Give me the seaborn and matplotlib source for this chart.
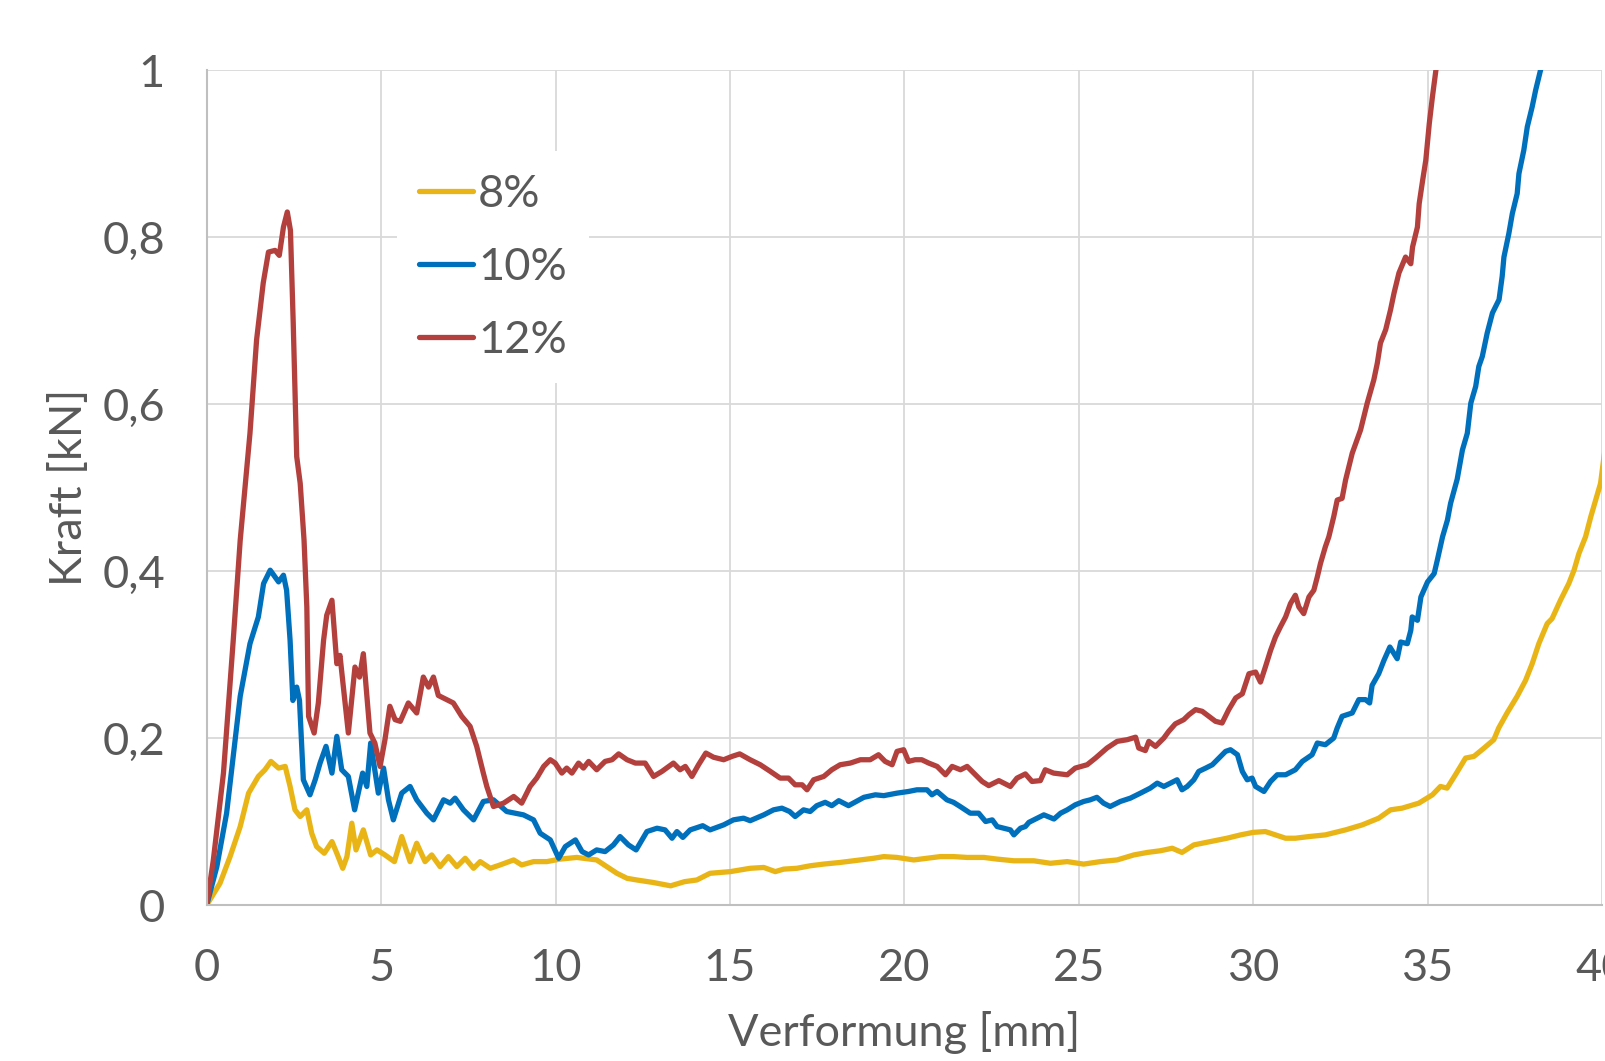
import numpy as np
import pandas as pd
import matplotlib
matplotlib.use("Agg")
import matplotlib.pyplot as plt
import seaborn as sns

# series: Verformung [mm] vs Kraft [kN]
x_8 = [0, 0.38, 0.67, 0.96, 1.2, 1.48, 1.67, 1.84, 2.06, 2.25, 2.39, 2.53, 2.68, 2.87, 3.01, 3.15,
       3.37, 3.59, 3.73, 3.9, 4.02, 4.16, 4.28, 4.49, 4.7, 4.88, 5.11, 5.38, 5.59, 5.83, 6.02, 6.26,
       6.45, 6.69, 6.93, 7.17, 7.41, 7.65, 7.84, 8.13, 8.41, 8.8, 9.03, 9.37, 9.75, 10.13, 10.61,
       11.18, 11.47, 11.76, 12.05, 12.33, 12.8, 13.3, 13.7, 14.05, 14.43, 15.01, 15.58, 15.97, 16.3,
       16.54, 16.92, 17.3, 17.68, 18.16, 18.74, 19.12, 19.41, 19.79, 20.27, 20.65, 21.03, 21.41,
       21.8, 22.28, 22.66, 23.14, 23.71, 24.19, 24.67, 25.14, 25.62, 26.1, 26.58, 26.97, 27.34,
       27.68, 27.96, 28.3, 28.78, 29.25, 29.64, 30.0, 30.35, 30.64, 30.93, 31.21, 31.6, 32.07, 32.65,
       33.13, 33.6, 33.94, 34.27, 34.75, 35.14, 35.37, 35.56, 35.8, 36.09, 36.33, 36.62, 36.9, 37.04,
       37.28, 37.57, 37.81, 38.0, 38.19, 38.43, 38.57, 38.81, 39.05, 39.2, 39.34, 39.53, 39.68,
       39.82, 39.96, 40.1]
y_8 = [0, 0.026, 0.058, 0.094, 0.134, 0.154, 0.162, 0.172, 0.164, 0.166, 0.142, 0.114, 0.106, 0.114,
       0.086, 0.070, 0.062, 0.076, 0.062, 0.044, 0.058, 0.098, 0.066, 0.090, 0.060, 0.066, 0.060,
       0.052, 0.082, 0.052, 0.074, 0.052, 0.060, 0.046, 0.058, 0.046, 0.056, 0.044, 0.052, 0.044,
       0.048, 0.054, 0.048, 0.052, 0.052, 0.055, 0.057, 0.054, 0.046, 0.038, 0.032, 0.030, 0.027,
       0.023, 0.028, 0.030, 0.038, 0.040, 0.044, 0.045, 0.040, 0.043, 0.044, 0.047, 0.049, 0.051,
       0.054, 0.056, 0.058, 0.057, 0.054, 0.056, 0.058, 0.058, 0.057, 0.057, 0.055, 0.053, 0.053,
       0.050, 0.052, 0.049, 0.052, 0.054, 0.060, 0.063, 0.065, 0.068, 0.063, 0.072, 0.076, 0.080,
       0.084, 0.087, 0.088, 0.084, 0.080, 0.080, 0.082, 0.084, 0.090, 0.096, 0.104, 0.114, 0.116,
       0.122, 0.132, 0.142, 0.140, 0.156, 0.176, 0.178, 0.188, 0.198, 0.212, 0.230, 0.250, 0.269,
       0.289, 0.313, 0.337, 0.343, 0.365, 0.385, 0.401, 0.421, 0.441, 0.465, 0.485, 0.505, 0.55]

x_10 = [0, 0.29, 0.57, 0.76, 0.96, 1.24, 1.48, 1.63, 1.82, 2.06, 2.2, 2.29, 2.39, 2.47, 2.58, 2.66,
        2.77, 2.96, 3.11, 3.25, 3.42, 3.59, 3.73, 3.87, 4.06, 4.24, 4.47, 4.59, 4.70, 4.92, 5.07,
        5.21, 5.35, 5.59, 5.83, 6.02, 6.31, 6.5, 6.79, 6.98, 7.12, 7.36, 7.65, 7.93, 8.22, 8.6, 9.08,
        9.37, 9.56, 9.85, 10.09, 10.28, 10.57, 10.76, 10.95, 11.18, 11.42, 11.66, 11.85, 12.09,
        12.31, 12.62, 12.91, 13.14, 13.34, 13.48, 13.65, 13.86, 14.22, 14.43, 14.82, 15.1, 15.39,
        15.58, 15.97, 16.25, 16.49, 16.71, 16.87, 17.11, 17.3, 17.49, 17.73, 17.92, 18.12, 18.4,
        18.84, 19.17, 19.41, 19.79, 20.12, 20.36, 20.65, 20.79, 20.94, 21.22, 21.41, 21.6, 21.89,
        22.13, 22.33, 22.52, 22.66, 22.85, 23.04, 23.14, 23.33, 23.47, 23.57, 23.81, 24.0, 24.29,
        24.48, 24.67, 24.9, 25.14, 25.33, 25.52, 25.71, 25.9, 26.19, 26.48, 26.77, 27.05, 27.25,
        27.44, 27.63, 27.82, 27.96, 28.11, 28.3, 28.44, 28.64, 28.83, 29.02, 29.21, 29.35, 29.55,
        29.69, 29.83, 29.97, 30.07, 30.31, 30.5, 30.69, 30.93, 31.21, 31.41, 31.69, 31.84, 32.07,
        32.31, 32.41, 32.55, 32.84, 33.03, 33.22, 33.34, 33.41, 33.6, 33.75, 33.92, 34.13, 34.23,
        34.42, 34.52, 34.56, 34.71, 34.81, 35.0, 35.19, 35.28, 35.43, 35.57, 35.66, 35.85, 36.0,
        36.14, 36.24, 36.38, 36.47, 36.57, 36.71, 36.86, 37.05, 37.14, 37.19, 37.33, 37.43, 37.57,
        37.62, 37.76, 37.86, 38.0, 38.1, 38.24, 38.35]
y_10 = [0, 0.046, 0.11, 0.178, 0.25, 0.313, 0.345, 0.385, 0.401, 0.387, 0.395, 0.377, 0.317, 0.245,
        0.261, 0.245, 0.150, 0.132, 0.150, 0.170, 0.19, 0.158, 0.202, 0.162, 0.154, 0.114, 0.158,
        0.142, 0.194, 0.134, 0.164, 0.126, 0.102, 0.134, 0.142, 0.126, 0.11, 0.102, 0.126, 0.122,
        0.128, 0.114, 0.102, 0.124, 0.126, 0.112, 0.108, 0.102, 0.086, 0.078, 0.056, 0.070, 0.078,
        0.064, 0.060, 0.066, 0.064, 0.072, 0.082, 0.072, 0.066, 0.088, 0.092, 0.090, 0.080, 0.088,
        0.081, 0.090, 0.095, 0.090, 0.096, 0.102, 0.104, 0.101, 0.108, 0.114, 0.116, 0.112, 0.106,
        0.114, 0.112, 0.119, 0.123, 0.119, 0.125, 0.119, 0.129, 0.132, 0.131, 0.134, 0.136, 0.138,
        0.138, 0.132, 0.136, 0.126, 0.123, 0.118, 0.110, 0.110, 0.100, 0.102, 0.094, 0.092, 0.090,
        0.084, 0.092, 0.094, 0.099, 0.104, 0.108, 0.103, 0.110, 0.114, 0.120, 0.124, 0.126, 0.129,
        0.122, 0.118, 0.124, 0.128, 0.134, 0.140, 0.146, 0.142, 0.146, 0.150, 0.138, 0.142, 0.150,
        0.160, 0.164, 0.168, 0.176, 0.184, 0.186, 0.180, 0.160, 0.150, 0.152, 0.142, 0.136, 0.148,
        0.156, 0.156, 0.162, 0.172, 0.180, 0.194, 0.192, 0.200, 0.212, 0.226, 0.230, 0.246, 0.246,
        0.242, 0.263, 0.277, 0.293, 0.309, 0.295, 0.315, 0.313, 0.329, 0.345, 0.341, 0.369, 0.387,
        0.397, 0.413, 0.441, 0.461, 0.481, 0.510, 0.545, 0.565, 0.601, 0.621, 0.645, 0.657, 0.685,
        0.709, 0.725, 0.753, 0.776, 0.804, 0.828, 0.852, 0.876, 0.904, 0.932, 0.956, 0.976, 1.0, 1.03]

x_12 = [0, 0.19, 0.48, 0.76, 0.96, 1.24, 1.43, 1.62, 1.77, 1.96, 2.08, 2.2, 2.31, 2.4, 2.48, 2.58,
        2.68, 2.79, 2.87, 2.92, 3.08, 3.2, 3.35, 3.44, 3.59, 3.73, 3.82, 4.06, 4.25, 4.38, 4.49,
        4.68, 4.82, 4.97, 5.11, 5.25, 5.40, 5.55, 5.78, 6.02, 6.21, 6.36, 6.50, 6.64, 6.88, 7.07,
        7.31, 7.55, 7.74, 7.93, 8.03, 8.22, 8.51, 8.8, 9.03, 9.27, 9.46, 9.66, 9.85, 9.99, 10.18,
        10.32, 10.47, 10.66, 10.8, 10.95, 11.18, 11.42, 11.62, 11.81, 12.05, 12.29, 12.57, 12.81,
        13.05, 13.38, 13.57, 13.72, 13.91, 14.1, 14.31, 14.53, 14.82, 15.06, 15.28, 15.58, 15.87,
        16.16, 16.44, 16.68, 16.87, 17.07, 17.21, 17.4, 17.69, 17.92, 18.16, 18.45, 18.74, 19.02,
        19.26, 19.45, 19.65, 19.79, 19.98, 20.12, 20.31, 20.5, 20.7, 20.94, 21.18, 21.37, 21.61,
        21.8, 22.04, 22.23, 22.42, 22.71, 22.85, 23.04, 23.23, 23.47, 23.66, 23.9, 24.04, 24.28,
        24.67, 24.9, 25.24, 25.48, 25.81, 26.1, 26.39, 26.63, 26.72, 26.91, 27.01, 27.2, 27.44,
        27.58, 27.77, 28.01, 28.16, 28.35, 28.54, 28.73, 28.92, 29.11, 29.3, 29.5, 29.69, 29.88,
        30.07, 30.21, 30.35, 30.5, 30.64, 30.78, 30.93, 31.07, 31.21, 31.31, 31.45, 31.6, 31.74,
        31.84, 31.93, 32.07, 32.17, 32.31, 32.41, 32.55, 32.65, 32.84, 33.08, 33.27, 33.46, 33.56,
        33.65, 33.8, 33.94, 34.04, 34.18, 34.37, 34.52, 34.57, 34.71, 34.76, 34.86, 34.95, 35.05,
        35.14, 35.24, 35.3]
y_12 = [0, 0.054, 0.158, 0.317, 0.437, 0.565, 0.677, 0.745, 0.782, 0.784, 0.778, 0.812, 0.830,
        0.808, 0.697, 0.537, 0.505, 0.437, 0.357, 0.226, 0.206, 0.242, 0.317, 0.347, 0.365, 0.289,
        0.299, 0.206, 0.285, 0.273, 0.301, 0.206, 0.194, 0.166, 0.198, 0.238, 0.222, 0.220, 0.242,
        0.230, 0.273, 0.261, 0.273, 0.251, 0.246, 0.242, 0.226, 0.214, 0.190, 0.158, 0.142, 0.118,
        0.122, 0.130, 0.122, 0.142, 0.152, 0.166, 0.174, 0.170, 0.158, 0.164, 0.158, 0.170, 0.164,
        0.172, 0.162, 0.172, 0.174, 0.181, 0.174, 0.170, 0.170, 0.154, 0.160, 0.170, 0.162, 0.166,
        0.154, 0.168, 0.182, 0.177, 0.174, 0.178, 0.181, 0.174, 0.168, 0.160, 0.152, 0.152, 0.144,
        0.144, 0.138, 0.150, 0.154, 0.162, 0.168, 0.170, 0.174, 0.174, 0.180, 0.172, 0.168, 0.184,
        0.186, 0.172, 0.174, 0.174, 0.170, 0.166, 0.156, 0.166, 0.162, 0.166, 0.156, 0.148, 0.143,
        0.149, 0.146, 0.142, 0.152, 0.157, 0.148, 0.149, 0.162, 0.158, 0.156, 0.164, 0.168, 0.176,
        0.188, 0.196, 0.198, 0.201, 0.188, 0.185, 0.196, 0.190, 0.200, 0.208, 0.217, 0.222, 0.228,
        0.234, 0.232, 0.226, 0.220, 0.218, 0.234, 0.248, 0.253, 0.277, 0.279, 0.267, 0.285, 0.305,
        0.321, 0.333, 0.345, 0.361, 0.371, 0.357, 0.349, 0.369, 0.377, 0.393, 0.409, 0.429, 0.441,
        0.465, 0.485, 0.487, 0.509, 0.541, 0.569, 0.601, 0.629, 0.649, 0.673, 0.689, 0.713, 0.733,
        0.757, 0.776, 0.768, 0.788, 0.812, 0.840, 0.868, 0.892, 0.936, 0.968, 1.0, 1.03]

labels = ["8%", "10%", "12%"]
colors = ["#E9B516", "#0070BD", "#B3403D"]
x_ticks = [0, 5, 10, 15, 20, 25, 30, 35, 40]
y_ticks = [0, 0.2, 0.4, 0.6, 0.8, 1.0]
y_tick_labels = ["0", "0,2", "0,4", "0,6", "0,8", "1"]

frames = []
for lab, xs, ys in zip(labels, [x_8, x_10, x_12], [y_8, y_10, y_12]):
    frames.append(pd.DataFrame({"Verformung": xs, "Kraft": ys, "Serie": lab}))
df = pd.concat(frames, ignore_index=True)

sns.set_theme(style="white")
plt.rcParams["font.family"] = ["Lato", "DejaVu Sans"]
text_col = "#595959"
fs = 32.5

fig = plt.figure(figsize=(16.05, 10.61), dpi=100)
ax = fig.add_axes([0.1288, 0.1470, 0.8693, 0.7870])

sns.lineplot(data=df, x="Verformung", y="Kraft", hue="Serie", hue_order=labels,
             palette=dict(zip(labels, colors)), estimator=None, sort=False,
             linewidth=3.8, ax=ax)
for ln in ax.get_lines():
    ln.set_solid_joinstyle("round")
    ln.set_solid_capstyle("round")

ax.set_xlim(0, 40)
ax.set_ylim(0, 1)
ax.set_xticks(x_ticks)
ax.set_yticks(y_ticks)
ax.set_yticklabels(y_tick_labels)
ax.grid(True, color="#D9D9D9", linewidth=1.3)
ax.set_axisbelow(True)
for side in ["top", "right"]:
    ax.spines[side].set_visible(False)
for side in ["left", "bottom"]:
    ax.spines[side].set_color("#BFBFBF")
    ax.spines[side].set_linewidth(1.5)
ax.tick_params(axis="both", length=0, labelsize=fs, colors=text_col)
ax.tick_params(axis="y", pad=30)
ax.tick_params(axis="x", pad=31)
ax.set_xlabel("Verformung [mm]", fontsize=fs, color=text_col, labelpad=16)
ax.set_ylabel("Kraft [kN]", fontsize=fs, color=text_col, labelpad=9)

leg = ax.legend(loc="upper left", bbox_to_anchor=(0.12, 0.93), fontsize=fs, frameon=True,
                handlelength=1.2, handletextpad=0.1, labelspacing=0.71, borderpad=0.5)
leg.get_frame().set_facecolor("white")
leg.get_frame().set_edgecolor("none")
leg.get_frame().set_alpha(1)
for t in leg.get_texts():
    t.set_color(text_col)
for h in leg.get_lines():
    h.set_linewidth(3.8)

fig.savefig("out.png", dpi=100)
